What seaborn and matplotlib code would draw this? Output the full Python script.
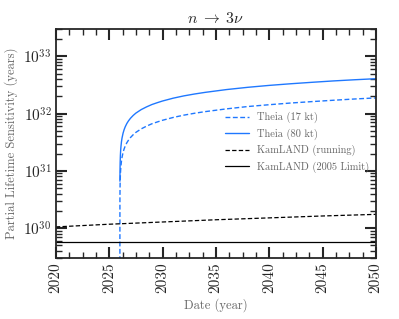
import numpy as np
import pandas as pd
import matplotlib
matplotlib.use("Agg")
import matplotlib.pyplot as plt
import seaborn as sns
from matplotlib.ticker import AutoMinorLocator, LogLocator

# ---- data ----
theia80_years = [2026.0063, 2026.01, 2026.02, 2026.03, 2026.05, 2026.075, 2026.1, 2026.15,
                 2026.2, 2026.3, 2026.4, 2026.5, 2026.65, 2026.8, 2027.0, 2027.25, 2027.5,
                 2028.0, 2028.5, 2029.0, 2029.5, 2030.0, 2031.0, 2032.0, 2033.0, 2034.0,
                 2036.0, 2038.0, 2040.0, 2042.0, 2044.0, 2046.0, 2048.0, 2050.0]
theia80_vals = [6.6e30, 8.3e30, 1.175e31, 1.44e31, 1.86e31, 2.275e31, 2.63e31, 3.22e31,
                3.72e31, 4.55e31, 5.25e31, 5.87e31, 6.70e31, 7.43e31, 8.31e31, 9.29e31, 1.02e32,
                1.175e32, 1.31e32, 1.44e32, 1.55e32, 1.66e32, 1.86e32, 2.04e32, 2.20e32, 2.35e32,
                2.63e32, 2.88e32, 3.11e32, 3.32e32, 3.52e32, 3.72e32, 3.90e32, 4.07e32]

theia17_years = [2026.0] + theia80_years
theia17_vals = [1e28, 3.04e30, 3.82e30, 5.41e30, 6.64e30, 8.57e30, 1.05e31, 1.21e31, 1.48e31,
                 1.71e31, 2.10e31, 2.42e31, 2.71e31, 3.09e31, 3.42e31, 3.83e31, 4.28e31, 4.70e31,
                 5.41e31, 6.04e31, 6.64e31, 7.14e31, 7.65e31, 8.57e31, 9.40e31, 1.014e32, 1.083e32,
                 1.21e32, 1.33e32, 1.43e32, 1.53e32, 1.62e32, 1.71e32, 1.80e32, 1.88e32]

kam_run_years = [2020, 2025, 2030, 2035, 2040, 2045, 2050]
kam_run_vals = [1.05e30, 1.17e30, 1.28e30, 1.40e30, 1.51e30, 1.63e30, 1.74e30]

kam_lim_years = [2020, 2050]
kam_lim_vals = [5.8e29, 5.8e29]

x_ticks = [2020, 2025, 2030, 2035, 2040, 2045, 2050]

# ---- style ----
sns.set_theme(style="ticks")
plt.rcParams["font.family"] = ["cmr10", "DejaVu Serif"]
plt.rcParams["mathtext.fontset"] = "cm"
plt.rcParams["axes.formatter.use_mathtext"] = True
plt.rcParams["axes.unicode_minus"] = False

blue = "#1f78ff"
grey = "#666666"

fig = plt.figure(figsize=(3.99, 3.19), dpi=100)
ax = fig.add_axes([0.140, 0.191, 0.802, 0.718])

sns.lineplot(x=theia17_years, y=theia17_vals, ax=ax, color=blue, lw=1.0,
             linestyle=(0, (3.5, 1.8)), label="Theia (17 kt)")
sns.lineplot(x=theia80_years, y=theia80_vals, ax=ax, color=blue, lw=1.0,
             label="Theia (80 kt)")
sns.lineplot(x=kam_run_years, y=kam_run_vals, ax=ax, color="black", lw=0.9,
             linestyle=(0, (3.5, 1.8)), label="KamLAND (running)")
sns.lineplot(x=kam_lim_years, y=kam_lim_vals, ax=ax, color="black", lw=0.9,
             label="KamLAND (2005 Limit)")

ax.set_yscale("log")
ax.set_xlim(2020, 2050)
ax.set_ylim(3e29, 3e33)

ax.set_xticks(x_ticks)
ax.set_xticklabels([str(t) for t in x_ticks], rotation=90)
ax.xaxis.set_minor_locator(AutoMinorLocator(4))
ax.yaxis.set_major_locator(LogLocator(base=10, numticks=10))
ax.yaxis.set_minor_locator(LogLocator(base=10, subs=np.arange(2, 10), numticks=20))

ax.tick_params(which="both", direction="in", top=True, right=True)
ax.tick_params(which="major", length=8, width=1.5, labelsize=11, pad=3)
ax.tick_params(which="minor", length=4, width=1.0)
for s in ax.spines.values():
    s.set_linewidth(1.3)

ax.set_xlabel("Date (year)", fontsize=9, color=grey)
ax.set_ylabel("Partial Lifetime Sensitivity (years)", fontsize=9, color=grey)
ax.set_title(r"$n\;\rightarrow\;3\nu$", fontsize=11.5, pad=4)

leg = ax.legend(loc="center right", bbox_to_anchor=(1.0, 0.505), frameon=False,
                fontsize=7.5, handlelength=2.3, handletextpad=0.8, labelspacing=0.5,
                borderaxespad=0.2)
for t in leg.get_texts():
    t.set_color(grey)

fig.savefig("out.png", dpi=100)
